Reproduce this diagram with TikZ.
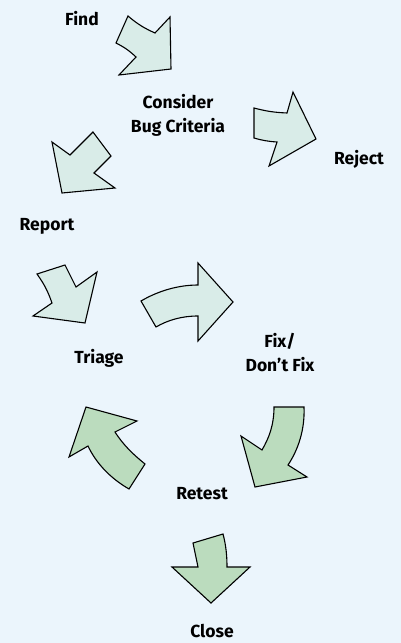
\documentclass[tikz,border=0pt]{standalone}
\usepackage{fontspec}
\setmainfont{Fira Sans}
\usepackage{tikz}

\definecolor{bgblue}{HTML}{EBF5FC}
\definecolor{palegreen}{HTML}{D9ECE8}
\definecolor{leafgreen}{HTML}{BBDCBE}

\begin{document}
\begin{tikzpicture}[x=1pt, y=-1pt,
    lbl/.style={font=\fontsize{17.5}{24}\selectfont\bfseries, align=center, inner sep=0pt},
    palearrow/.style={draw=black, line width=1.1pt, fill=palegreen, line join=miter},
    greenarrow/.style={draw=black, line width=1.1pt, fill=leafgreen, line join=miter}]
    \fill[bgblue] (0, 0) rectangle (401, 643);
    \useasboundingbox (0, 0) rectangle (401, 643);

    % labels
    \node[lbl] (find) at (82, 19) {Find};
    \node[lbl] (consider) at (178, 115) {Consider\\Bug Criteria};
    \node[lbl] (reject) at (359, 159) {Reject};
    \node[lbl] (report) at (47, 226) {Report};
    \node[lbl] (triage) at (99, 358) {Triage};
    \node[lbl] (fix) at (280, 353) {Fix/\\Don’t Fix};
    \node[lbl] (retest) at (202, 494) {Retest};
    \node[lbl] (close) at (212, 631) {Close};

    % pale arrows
    \draw[palearrow]
      (128, 16) to[bend right=8] (155, 33) -- (170, 17) -- (171, 69)
      -- (119, 75) -- (136, 57) to[bend right=8] (116, 43) -- cycle;
    \draw[palearrow]
      (93, 132) -- (111, 156) -- (94, 173) -- (115, 188)
      -- (62, 193) -- (52, 142) -- (70, 155) -- cycle;
    \draw[palearrow]
      (254, 108) to[bend right=6] (287, 113) -- (293, 92) -- (316, 139)
      -- (269, 166) -- (277, 142) to[bend left=6] (254, 138) -- cycle;
    \draw[palearrow]
      (37, 274) -- (65, 265) -- (76, 287) -- (97, 272)
      -- (85, 323) -- (33, 316) -- (52, 303) to[bend right=8] cycle;
    \draw[palearrow]
      (141, 301) .. controls (158, 291) and (178, 285) .. (198, 285)
      -- (198, 263) -- (233, 302) -- (198, 341) -- (198, 316)
      .. controls (182, 316) and (168, 320) .. (156, 327) -- cycle;

    % green arrows
    \draw[greenarrow]
      (274, 407) -- (304, 407) .. controls (305, 430) and (298, 450) .. (288, 465)
      -- (307, 477) -- (255, 487) -- (241, 436) -- (262, 450)
      .. controls (269, 438) and (274, 425) .. cycle;
    \draw[greenarrow]
      (86, 407) -- (137, 421) -- (115, 432)
      .. controls (124, 446) and (134, 455) .. (145, 464) -- (129, 489)
      .. controls (110, 478) and (96, 463) .. (88, 446) -- (69, 457) -- cycle;
    \draw[greenarrow]
      (193, 543) -- (223, 534) .. controls (226, 545) and (227, 556) .. (227, 567)
      -- (250, 567) -- (211, 603) -- (172, 567) -- (198, 567) -- cycle;
  \end{tikzpicture}
\end{document}
